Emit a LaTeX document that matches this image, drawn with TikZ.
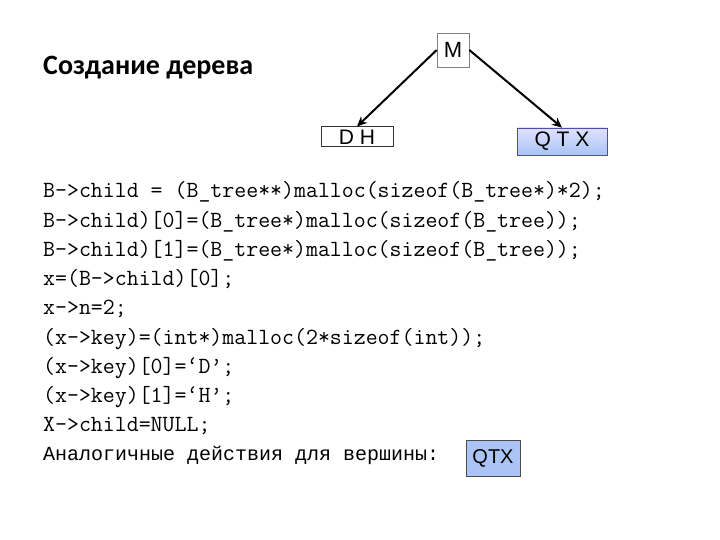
\documentclass[tikz,border=0pt]{standalone}
\usepackage{fontspec}
\setmainfont{Carlito}
\newfontfamily\codefont{Liberation Mono}
\usetikzlibrary{arrows.meta}
\definecolor{qblue}{HTML}{A9C4F5}
\begin{document}
\begin{tikzpicture}[x=1pt,y=-1pt,
  code/.style={anchor=base west,inner sep=0,font=\ttfamily\fontsize{23.2}{23.2}\selectfont},
  boxw/.style={draw=black!80,line width=1pt,inner sep=0,fill=white},
  boxb/.style={draw=blue!40!gray,line width=0.8pt,inner sep=0,top color=blue!12,bottom color=qblue},
  arr/.style={-{Stealth[length=10pt,width=9pt]},line width=2pt,black}]
\useasboundingbox (0,0) rectangle (720,540);
\node[anchor=west,inner sep=0,font=\bfseries\fontsize{28}{28}\selectfont] (title) at (43,68) {Создание дерева};
\node[draw=gray,fill=white,line width=0.6pt,minimum width=32pt,minimum height=34pt,inner sep=0,font=\fontspec{Liberation Sans}\fontsize{22}{22}\selectfont] (M) at (453,50) {M};
\node[boxw,minimum width=72pt,minimum height=20pt,font=\fontspec{Liberation Sans}\fontsize{21}{21}\selectfont] (DH) at (357,137) {D H};
\node[boxb,minimum width=90pt,minimum height=27pt,font=\fontspec{Liberation Sans}\fontsize{21}{21}\selectfont] (QTX) at (562,141.5) {Q T X};
\draw[arr] (M.west) -- (DH.north);
\draw[arr] (M.east) -- (QTX.north);
\foreach \t [count=\i] in {
 {B->child = (B\_tree**)malloc(sizeof(B\_tree*)*2);},
 {B->child)[0]=(B\_tree*)malloc(sizeof(B\_tree));},
 {B->child)[1]=(B\_tree*)malloc(sizeof(B\_tree));},
 {x=(B->child)[0];},
 {x->n=2;},
 {(x->key)=(int*)malloc(2*sizeof(int));},
 {(x->key)[0]=‘D’;},
 {(x->key)[1]=‘H’;},
 {X->child=NULL;},
 {\codefont\fontsize{20}{20}\selectfont Аналогичные действия для вершины:}}
 \node[code] (c\i) at (43,{192+29.2*(\i-1)+6}) {\t};
\node[draw=black!70,fill=qblue,line width=0.8pt,minimum width=54pt,minimum height=36pt,inner sep=0,font=\fontspec{Liberation Sans}\fontsize{20}{20}\selectfont] (QTX2) at (493,458) {QTX};
\end{tikzpicture}
\end{document}
